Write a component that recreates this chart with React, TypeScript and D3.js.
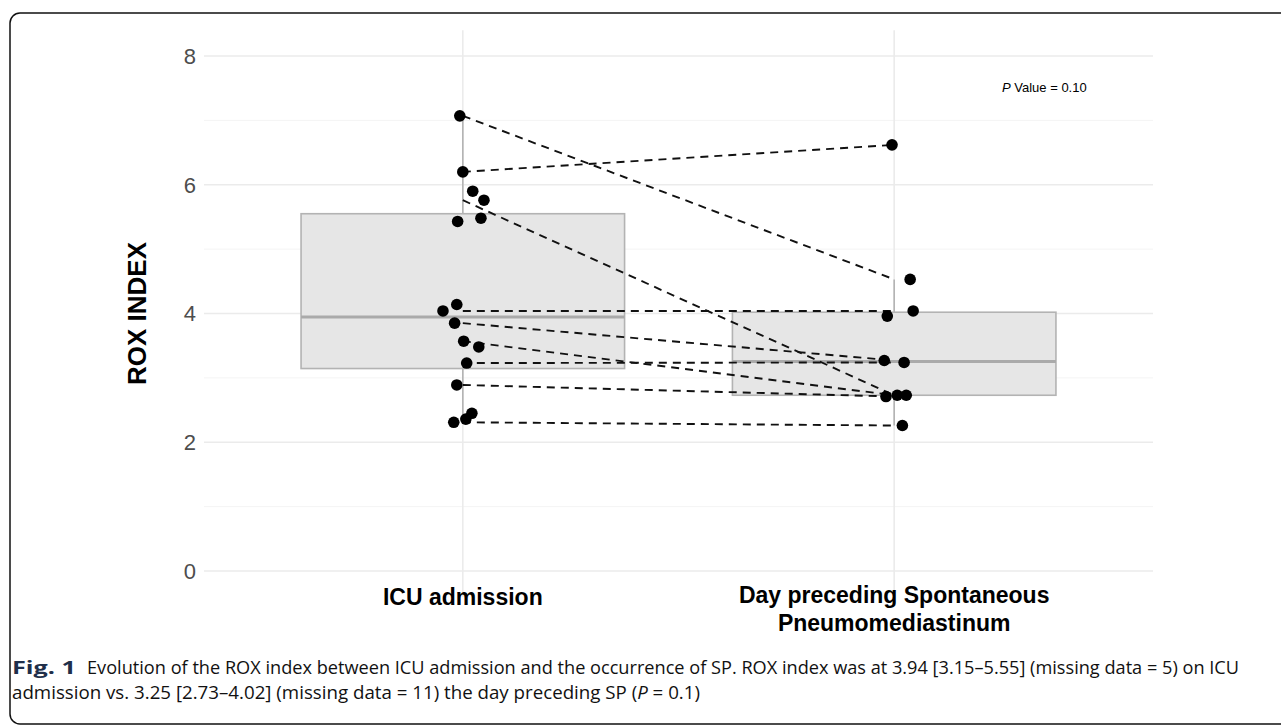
import React from "react";
import * as d3 from "d3";

// ROX index per patient
const categories = ["ICU admission", "Day preceding Spontaneous Pneumomediastinum"];
const icuValues = [7.07, 6.2, 5.9, 5.76, 5.43, 5.48, 4.04, 4.14, 3.85, 3.57, 3.48, 3.23, 2.89, 2.31, 2.36, 2.45];
const icuJitter = [-0.007, 0.0, 0.023, 0.049, -0.012, 0.042, -0.046, -0.014, -0.019, 0.002, 0.037, 0.009, -0.014, -0.021, 0.007, 0.021];
const dayValues = [6.62, 4.53, 4.04, 3.96, 3.27, 3.24, 2.71, 2.73, 2.73, 2.26];
const dayJitter = [-0.005, 0.037, 0.044, -0.016, -0.023, 0.023, -0.019, 0.007, 0.028, 0.019];
// paired patients (dashed lines)
const pairIcu = [7.07, 6.2, 5.76, 4.04, 3.85, 3.57, 3.23, 2.89, 2.31];
const pairDay = [4.53, 6.62, 2.73, 4.04, 3.27, 2.73, 3.24, 2.71, 2.26];
const yTicks = [0, 2, 4, 6, 8];
const yMinor = [1, 3, 5, 7];
const pValueLabel = "0.10";

const W = 1281;
const H = 726;
const axisFont = "'Liberation Sans', Arial, sans-serif";
const capFont = "'Liberation Sans Narrow', 'Open Sans', sans-serif";

function boxStats(vals: number[]) {
  const s = vals.slice().sort(d3.ascending);
  const q1 = d3.quantile(s, 0.25)!;
  const med = d3.quantile(s, 0.5)!;
  const q3 = d3.quantile(s, 0.75)!;
  const iqr = q3 - q1;
  const lo = d3.min(s.filter((v) => v >= q1 - 1.5 * iqr))!;
  const hi = d3.max(s.filter((v) => v <= q3 + 1.5 * iqr))!;
  return { q1, med, q3, lo, hi };
}

export default function App() {
  const x = d3.scaleLinear().domain([0.4, 2.6]).range([204, 1153]);
  const y = d3.scaleLinear().domain([-0.4, 8.4]).range([596.75, 30.25]);
  const groups = [
    { pos: 1, vals: icuValues, jit: icuJitter },
    { pos: 2, vals: dayValues, jit: dayJitter },
  ];
  const bw = 0.375;

  return (
    <svg width={W} height={H} style={{ position: "absolute", left: 0, top: 0, background: "#fff" }}>
      <rect x={10} y={13} width={1300} height={711} rx={10} fill="none" stroke="#111" strokeWidth={1.5} />

      {/* grid */}
      <g>
        {yMinor.map((t) => (
          <line key={"m" + t} x1={x(0.4)} x2={x(2.6)} y1={y(t)} y2={y(t)} stroke="#f4f4f4" strokeWidth={1} />
        ))}
        {yTicks.map((t) => (
          <line key={"M" + t} x1={x(0.4)} x2={x(2.6)} y1={y(t)} y2={y(t)} stroke="#ebebeb" strokeWidth={1.6} />
        ))}
        {groups.map((g) => (
          <line key={"v" + g.pos} x1={x(g.pos)} x2={x(g.pos)} y1={y(8.4)} y2={y(-0.4)} stroke="#ebebeb" strokeWidth={1.6} />
        ))}
      </g>

      {/* boxplots */}
      {groups.map((g) => {
        const b = boxStats(g.vals);
        return (
          <g key={"b" + g.pos}>
            <line x1={x(g.pos)} x2={x(g.pos)} y1={y(b.q3)} y2={y(b.hi)} stroke="#b3b3b3" strokeWidth={1.6} />
            <line x1={x(g.pos)} x2={x(g.pos)} y1={y(b.q1)} y2={y(b.lo)} stroke="#b3b3b3" strokeWidth={1.6} />
            <rect
              x={x(g.pos - bw)}
              y={y(b.q3)}
              width={x(g.pos + bw) - x(g.pos - bw)}
              height={y(b.q1) - y(b.q3)}
              fill="#e6e6e6"
              stroke="#b3b3b3"
              strokeWidth={1.6}
            />
            <line x1={x(g.pos - bw)} x2={x(g.pos + bw)} y1={y(b.med)} y2={y(b.med)} stroke="#aaaaaa" strokeWidth={3} />
          </g>
        );
      })}

      {/* paired dashed lines */}
      {pairIcu.map((v, i) => (
        <line
          key={"p" + i}
          x1={x(1)}
          y1={y(v)}
          x2={x(2)}
          y2={y(pairDay[i])}
          stroke="#111"
          strokeWidth={1.9}
          strokeDasharray="8,6"
        />
      ))}

      {/* jittered points */}
      {groups.map((g) =>
        g.vals.map((v, i) => (
          <circle key={g.pos + "-" + i} cx={x(g.pos + g.jit[i])} cy={y(v)} r={5.8} fill="#000" />
        ))
      )}

      {/* y axis */}
      {yTicks.map((t) => (
        <text key={"t" + t} x={196} y={y(t)} dy="0.36em" textAnchor="end" fontFamily={axisFont} fontSize={22} fill="#4d4d4d">
          {t}
        </text>
      ))}
      <text
        transform={`translate(146,${y(4)}) rotate(-90)`}
        textAnchor="middle"
        fontFamily={axisFont}
        fontSize={26}
        fontWeight="bold"
        fill="#000"
      >
        ROX INDEX
      </text>

      {/* x axis labels */}
      <text x={x(1)} y={605} textAnchor="middle" fontFamily={axisFont} fontSize={23} fontWeight="bold" fill="#000">
        {categories[0]}
      </text>
      <text x={x(2)} y={603} textAnchor="middle" fontFamily={axisFont} fontSize={23} fontWeight="bold" fill="#000">
        Day preceding Spontaneous
      </text>
      <text x={x(2)} y={631} textAnchor="middle" fontFamily={axisFont} fontSize={23} fontWeight="bold" fill="#000">
        Pneumomediastinum
      </text>

      {/* p value */}
      <text x={1002} y={92} fontFamily={axisFont} fontSize={13} fill="#000">
        <tspan fontStyle="italic">P</tspan> Value = {pValueLabel}
      </text>

      {/* caption */}
      <text x={12} y={674} fontFamily={capFont} fontSize={18} fontWeight="bold" fill="#1f2f4a" textLength={64} lengthAdjust="spacingAndGlyphs">
        Fig. 1
      </text>
      <text x={87} y={674} fontFamily={capFont} fontSize={18} fill="#111" textLength={1152} lengthAdjust="spacingAndGlyphs">
        Evolution of the ROX index between ICU admission and the occurrence of SP. ROX index was at 3.94 [3.15–5.55] (missing data = 5) on ICU
      </text>
      <text x={12} y={699} fontFamily={capFont} fontSize={18} fill="#111" textLength={688} lengthAdjust="spacingAndGlyphs">
        admission vs. 3.25 [2.73–4.02] (missing data = 11) the day preceding SP (<tspan fontStyle="italic">P</tspan> = 0.1)
      </text>
    </svg>
  );
}
